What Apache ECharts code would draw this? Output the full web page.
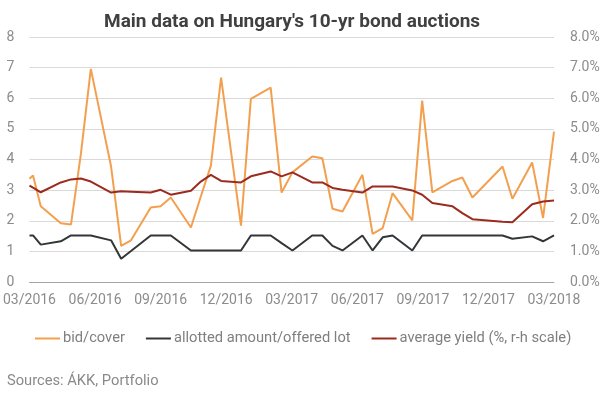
<!DOCTYPE html>
<html>
<head>
<meta charset="utf-8">
<script src="https://cdn.jsdelivr.net/npm/echarts@6/dist/echarts.min.js"></script>
<style>
html,body{margin:0;padding:0;background:#fff;}
#c{width:608px;height:395px;}
</style>
</head>
<body>
<div id="c"></div>
<script>
// Auction dates
var dates = ['2016-03-01','2016-03-06','2016-03-17','2016-04-14','2016-04-28','2016-05-12','2016-05-26','2016-06-23','2016-07-07','2016-07-21','2016-08-18','2016-09-01','2016-09-15','2016-10-13','2016-10-27','2016-11-10','2016-11-24','2016-12-22','2017-01-05','2017-02-02','2017-02-16','2017-03-02','2017-03-30','2017-04-13','2017-04-27','2017-05-11','2017-06-08','2017-06-22','2017-07-06','2017-07-20','2017-08-17','2017-08-31','2017-09-14','2017-10-12','2017-10-26','2017-11-09','2017-12-21','2018-01-04','2018-02-01','2018-02-15','2018-03-01'];
var bidCover = [3.37,3.48,2.47,1.92,1.88,4.2,6.96,3.77,1.18,1.36,2.43,2.47,2.76,1.78,2.79,3.80,6.67,1.84,5.98,6.35,2.92,3.58,4.10,4.04,2.39,2.30,3.50,1.57,1.76,2.90,2.01,5.92,2.93,3.30,3.41,2.76,3.77,2.72,3.90,2.09,4.91];
var allotted = [1.52,1.52,1.22,1.33,1.52,1.52,1.52,1.36,0.76,1.01,1.52,1.52,1.52,1.03,1.03,1.03,1.03,1.03,1.52,1.52,1.27,1.03,1.52,1.52,1.18,1.03,1.52,1.03,1.46,1.52,1.03,1.52,1.52,1.52,1.52,1.52,1.52,1.41,1.49,1.33,1.52];
var avgYield = [3.15,3.08,2.93,3.25,3.35,3.38,3.28,2.92,2.96,2.95,2.92,3.01,2.85,2.98,3.28,3.50,3.30,3.25,3.45,3.61,3.45,3.58,3.25,3.25,3.07,3.01,2.92,3.12,3.12,3.12,2.99,2.85,2.58,2.47,2.25,2.05,1.97,1.95,2.54,2.63,2.66];
var xTickLabels = ['03/2016','06/2016','09/2016','12/2016','03/2017','06/2017','09/2017','12/2017','03/2018'];
var seriesNames = ['bid/cover','allotted amount/offered lot','average yield (%, r-h scale)'];

function monthPos(s){
  var p = s.split('-'), y = +p[0], m = +p[1], d = +p[2];
  var dim = new Date(Date.UTC(y, m, 0)).getUTCDate();
  return (y - 2016) * 12 + (m - 3) + (d - 1) / dim;
}
function pairs(vals){ return dates.map(function(d,i){ return [monthPos(d), vals[i]]; }); }

var FONT = 'Roboto';
var chart = echarts.init(document.getElementById('c'), null, {renderer:'canvas'});
chart.setOption({
  animation:false,
  backgroundColor:'#fff',
  title:{
    text:"Main data on Hungary's 10-yr bond auctions",
    left:99, top:8,
    textStyle:{fontFamily:FONT, fontSize:19, fontWeight:'bold', color:'#404040'}
  },
  legend:{
    left:30, top:326,
    icon:'rect', itemWidth:25, itemHeight:2, itemGap:21,
    textStyle:{fontFamily:FONT, fontSize:14.7, color:'#7f7f7f', padding:[0,0,0,-2]},
    data:seriesNames
  },
  graphic:[{
    type:'text', left:7, top:374,
    style:{text:'Sources: ÁKK, Portfolio', font:'14.7px Roboto', fill:'#8a8a8a'}
  }],
  grid:{left:28, right:54, top:37, bottom:113, containLabel:false},
  xAxis:{
    type:'value', min:0, max:24, interval:3,
    axisLine:{lineStyle:{color:'#a6a6a6', width:1}},
    axisTick:{show:false},
    splitLine:{show:false},
    axisLabel:{fontFamily:FONT, fontSize:14, color:'#8c8c8c', margin:11,
      formatter:function(v){ return xTickLabels[Math.round(v/3)]; }}
  },
  yAxis:[{
    type:'value', min:0, max:8, interval:1,
    axisLine:{show:false}, axisTick:{show:false},
    splitLine:{lineStyle:{color:'#d9d9d9', width:1}},
    axisLabel:{fontFamily:FONT, fontSize:14, color:'#8c8c8c', margin:15}
  },{
    type:'value', min:0, max:8, interval:1, position:'right',
    axisLine:{show:false}, axisTick:{show:false},
    splitLine:{show:false},
    axisLabel:{fontFamily:FONT, fontSize:14, color:'#8c8c8c', margin:16,
      formatter:function(v){ return v.toFixed(1)+'%'; }}
  }],
  series:[{
    name:seriesNames[0], type:'line', data:pairs(bidCover), showSymbol:false,
    lineStyle:{color:'#F2A04F', width:2}, itemStyle:{color:'#F2A04F'}
  },{
    name:seriesNames[1], type:'line', data:pairs(allotted), showSymbol:false,
    lineStyle:{color:'#333638', width:2}, itemStyle:{color:'#333638'}
  },{
    name:seriesNames[2], type:'line', yAxisIndex:1, data:pairs(avgYield), showSymbol:false,
    lineStyle:{color:'#9C2B1F', width:2}, itemStyle:{color:'#9C2B1F'}
  }]
});
</script>
</body>
</html>
